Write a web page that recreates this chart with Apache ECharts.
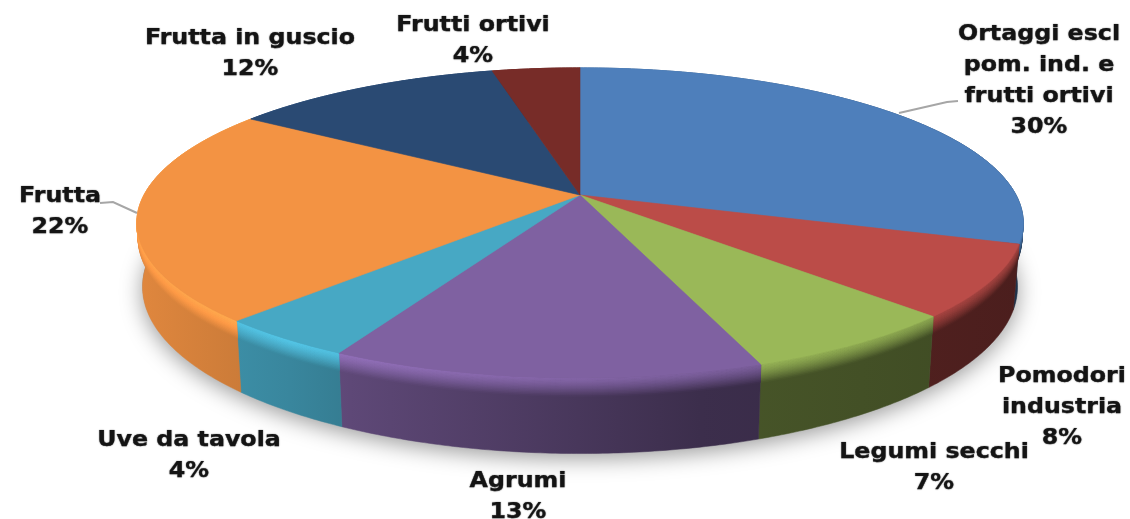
<!DOCTYPE html>
<html>
<head>
<meta charset="utf-8">
<style>html,body{margin:0;padding:0;background:#fff}#c{width:1130px;height:519px}</style>
<script src="https://cdn.jsdelivr.net/npm/echarts@6/dist/echarts.min.js"></script>
</head>
<body>
<div id="c"></div>
<script>
const categories = ['Ortaggi escl\npom. ind. e\nfrutti ortivi','Pomodori\nindustria','Legumi secchi','Agrumi','Uve da tavola','Frutta','Frutta in guscio','Frutti ortivi'];
const shares = [30, 7.5, 6.9, 13.3, 4.3, 22.4, 11.8, 3.8];
const colors = ['#4e7fbb','#bb4c48','#9ab858','#7f61a1','#47a8c4','#f39343','#2a4a73','#772c28'];
const labelAnchors = [[1039,81],[1062,408],[934,468],[518,497],[189,456],[60,212],[250,54],[473,41]];
const leaders = [
  [[899,113],[947,102],[958,101]],
  [[100,203],[113,202],[137,213]]
];

const CX = 580, CY = 195, R = 436, S = 150, P = 0.18, DEPTH = 62;
const total = shares.reduce((a,b)=>a+b,0);
const cumulative = [0];
shares.forEach((v,i)=>cumulative.push(cumulative[i]+v));

function project(theta, h){
  const d = 1 + P*Math.cos(theta);
  return [CX + R*Math.sin(theta)/d*(1-0.013*h/DEPTH), CY - S*Math.cos(theta)/d + h/d];
}
function arc(a0,a1,h){
  const n = Math.max(4, Math.ceil((a1-a0)/0.01)), pts=[];
  for(let i=0;i<=n;i++) pts.push(project(a0+(a1-a0)*i/n,h));
  return pts;
}
function angles(i){
  return [cumulative[i]/total*2*Math.PI, cumulative[i+1]/total*2*Math.PI];
}
function rgb(hex){ return [1,3,5].map(k=>parseInt(hex.substr(k,2),16)); }
function css(c){ return 'rgb('+c.map(v=>Math.max(0,Math.min(255,Math.round(v)))).join(',')+')'; }
const X0=137, X1=1024;
const sideStops=[[137,.92],[290,.80],[350,.74],[700,.47],[1024,.40]];
const rimStops=[[137,1.10],[290,1.18],[350,1.14],[700,.98],[1024,.85]];
function mixGradient(hex,t){
  const c=rgb(hex);
  const stops=sideStops.map((s,k)=>{
    const f=rimStops[k][1]*(1-t)+s[1]*t;
    return {offset:(s[0]-X0)/(X1-X0),color:css(c.map(v=>v*f))};
  });
  return new echarts.graphic.LinearGradient(X0,0,X1,0,stops,true);
}

function sideItem(params){
  const i=params.dataIndex, [a0,a1]=angles(i), kids=[];
  if(i===0){
    kids.push({type:'polygon',shape:{points:arc(0,2*Math.PI,DEPTH-1)},
      style:{fill:'#888',shadowColor:'rgba(0,0,0,0.4)',shadowBlur:22,shadowOffsetY:6}});
  }
  const top=arc(a0,a1,0), bot=arc(a0,a1,DEPTH).reverse();
  const fill=mixGradient(colors[i],1);
  kids.push({type:'polygon',shape:{points:top.concat(bot)},style:{fill:fill,stroke:fill,lineWidth:.5}});
  const strips=12, band=15;
  for(let k=strips-1;k>=0;k--){
    const t0=band*k/strips, t1=band*(k+1)/strips;
    const t=Math.pow((k+.5)/strips,1.3);
    const g=mixGradient(colors[i],t);
    kids.push({type:'polygon',shape:{points:arc(a0,a1,t0).concat(arc(a0,a1,t1).reverse())},style:{fill:g,stroke:g,lineWidth:.8}});
  }
  return {type:'group',children:kids};
}
function topItem(params){
  const i=params.dataIndex, [a0,a1]=angles(i);
  return {type:'polygon',shape:{points:[[CX,CY]].concat(arc(a0,a1,0))},
    style:{fill:colors[i],stroke:colors[i],lineWidth:.6}};
}
function labelItem(params){
  const i=params.dataIndex, p=labelAnchors[i];
  const kids=[{type:'text',x:p[0],y:p[1],scaleX:1.13,style:{
    text:categories[i]+'\n'+Math.round(shares[i])+'%',
    align:'center',verticalAlign:'middle',
    font:'bold 21px "DejaVu Sans"',lineHeight:31,fill:'#141414',
    stroke:'#141414',lineWidth:.25,
    textShadowColor:'rgba(30,30,30,.5)',textShadowBlur:1.5
  }}];
  if(i===0) leaders.forEach(l=>kids.push({type:'polyline',shape:{points:l},style:{stroke:'#a6a6a6',lineWidth:2,fill:null}}));
  return {type:'group',children:kids};
}
const base={type:'custom',coordinateSystem:'none',silent:true,animation:false,data:shares,clip:false};
const chart=echarts.init(document.getElementById('c'),null,{renderer:'canvas'});
chart.setOption({
  backgroundColor:'#fff',animation:false,
  series:[
    Object.assign({},base,{name:'sides',renderItem:sideItem,z:1}),
    Object.assign({},base,{name:'tops',renderItem:topItem,z:2}),
    Object.assign({},base,{name:'labels',renderItem:labelItem,z:3})
  ]
});
</script>
</body>
</html>
